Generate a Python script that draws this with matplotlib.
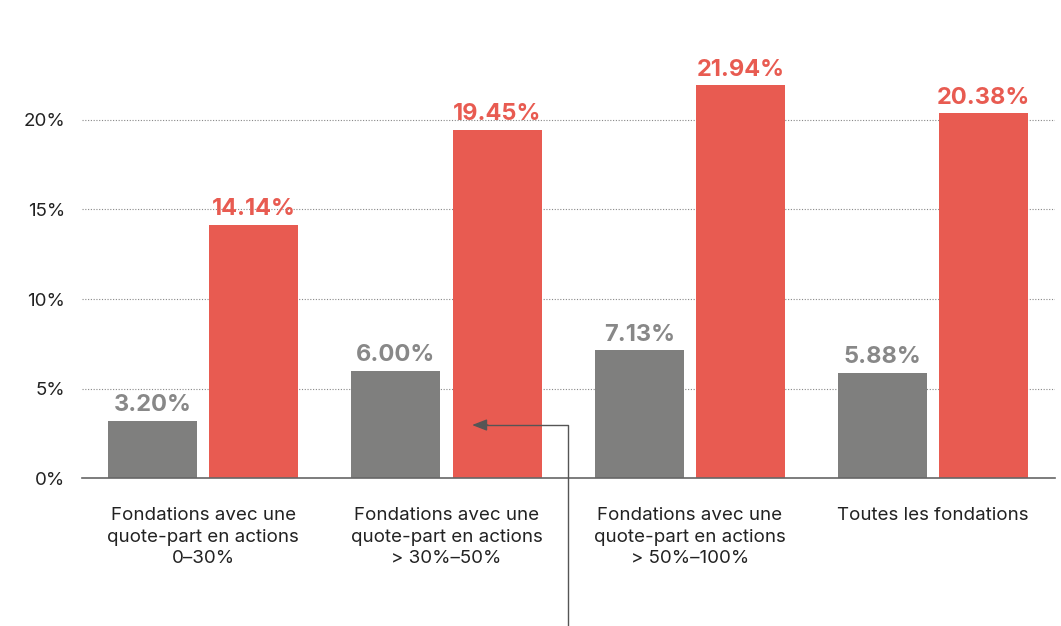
import matplotlib
matplotlib.use("Agg")
import matplotlib.pyplot as plt
import numpy as np

# Data
categories = [
    "Fondations avec une\nquote-part en actions\n0–30%",
    "Fondations avec une\nquote-part en actions\n> 30%–50%",
    "Fondations avec une\nquote-part en actions\n> 50%–100%",
    "Toutes les fondations",
]
grey_values = [3.20, 6.00, 7.13, 5.88]
red_values = [14.14, 19.45, 21.94, 20.38]
yticks = [0, 5, 10, 15, 20]

GREY = "#7f7f7e"
RED = "#e85b51"

plt.rcParams["font.family"] = ["Inter", "DejaVu Sans"]

fig = plt.figure(figsize=(10.61, 6.26), dpi=100)
ax = fig.add_axes([0.077, 0.2364, 0.917, 0.6863])

x = np.arange(len(categories))
w = 0.366
off = 0.208
ax.bar(x - off, grey_values, w, color=GREY, zorder=2)
ax.bar(x + off, red_values, w, color=RED, zorder=2)

for xi, g, r in zip(x, grey_values, red_values):
    ax.text(xi - off, g + 0.25, f"{g:.2f}%", ha="center", va="bottom",
            fontsize=17, fontweight="bold", color="#888888", zorder=3)
    ax.text(xi + off, r + 0.25, f"{r:.2f}%", ha="center", va="bottom",
            fontsize=17, fontweight="bold", color=RED, zorder=3)

ax.set_xlim(-0.5, 3.5)
ax.set_ylim(0, 24)
ax.set_yticks(yticks)
ax.set_yticklabels([f"{t}%" for t in yticks], fontsize=13.5, color="#222222")
ax.set_xticks(x)
ax.set_xticklabels(categories, fontsize=13.5, color="#222222", linespacing=1.35, va="top")
ax.tick_params(axis="both", length=0)
ax.tick_params(axis="y", pad=12)
ax.tick_params(axis="x", pad=21)

for t in yticks[1:]:
    ax.axhline(t, color="#888888", linestyle=(0, (1, 1.5)), linewidth=0.8, zorder=1)

for s in ["top", "right", "left"]:
    ax.spines[s].set_visible(False)
ax.spines["bottom"].set_color("#666666")
ax.spines["bottom"].set_linewidth(1.2)

# Pointer line from the bottom, up and left into the red bar
ax.plot([1.5, 1.5, 1.16], [-8.3, 2.96, 2.96], color="#555555", linewidth=1.0,
        clip_on=False, zorder=4)
ax.annotate("", xy=(1.105, 2.96), xytext=(1.17, 2.96),
            arrowprops=dict(arrowstyle="-|>,head_length=0.9,head_width=0.35",
                            color="#555555", lw=1.0, shrinkA=0, shrinkB=0),
            zorder=4, annotation_clip=False)

fig.savefig("out.png", dpi=100)
